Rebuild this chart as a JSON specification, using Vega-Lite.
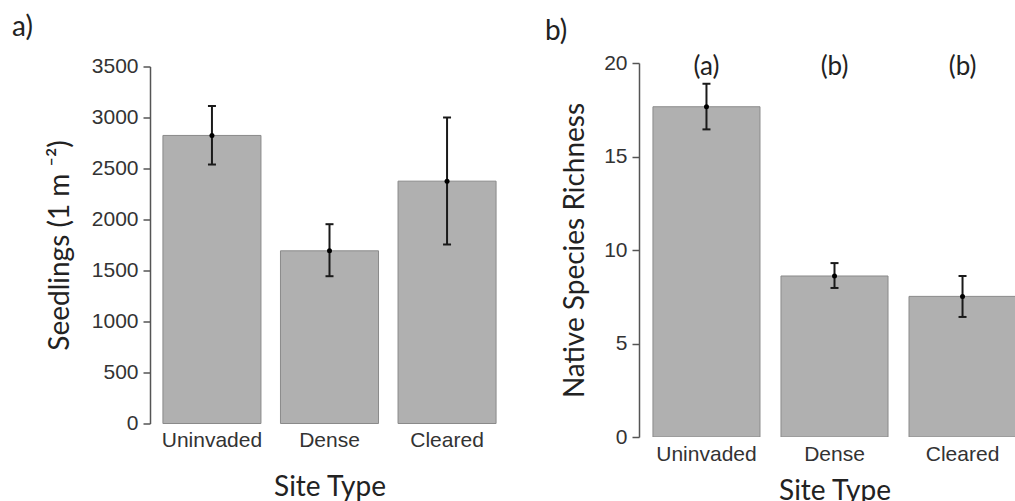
{
  "$schema": "https://vega.github.io/schema/vega-lite/v6.json",
  "padding": {"left": 12, "right": 0, "top": 13, "bottom": 0},
  "spacing": 36,
  "center": true,
  "datasets": {
    "seedlings": [
      {"site": "Uninvaded", "mean": 2824, "lo": 2539, "hi": 3113},
      {"site": "Dense", "mean": 1693, "lo": 1444, "hi": 1954},
      {"site": "Cleared", "mean": 2376, "lo": 1755, "hi": 3000}
    ],
    "richness": [
      {"site": "Uninvaded", "mean": 17.66, "lo": 16.45, "hi": 18.89, "letter": "(a)"},
      {"site": "Dense", "mean": 8.61, "lo": 7.97, "hi": 9.30, "letter": "(b)"},
      {"site": "Cleared", "mean": 7.52, "lo": 6.42, "hi": 8.61, "letter": "(b)"}
    ]
  },
  "config": {
    "view": {"stroke": null},
    "axis": {
      "grid": false,
      "labelFont": "Liberation Sans",
      "labelFontSize": 21,
      "labelColor": "#333333",
      "titleFont": "Lato",
      "titleFontSize": 28,
      "titleFontWeight": "normal",
      "titleColor": "#222222",
      "domainColor": "#555555",
      "domainWidth": 1.5,
      "tickColor": "#555555",
      "tickWidth": 1.5,
      "tickSize": 7
    },
    "title": {"font": "Lato", "fontSize": 28, "fontWeight": "normal", "color": "#222222", "anchor": "start", "frame": "group"}
  },
  "hconcat": [
    {
      "width": 359,
      "height": 357,
      "data": {"name": "seedlings"},
      "title": {"text": "a)", "dx": -138, "offset": 14},
      "encoding": {
        "x": {
          "field": "site", "type": "nominal", "sort": ["Uninvaded", "Dense", "Cleared"],
          "scale": {"paddingInner": 0.166, "paddingOuter": 0.11},
          "axis": {"title": "Site Type", "labelAngle": 0, "domain": false, "ticks": false, "labelPadding": 6, "titlePadding": 23}
        }
      },
      "layer": [
        {
          "mark": {"type": "bar", "fill": "#b0b0b0", "stroke": "#8a8a8a", "strokeWidth": 1},
          "encoding": {
            "y": {"field": "mean", "type": "quantitative", "scale": {"domain": [0, 3500], "nice": false},
              "axis": {"title": "Seedlings (1 m ⁻²)", "format": "d", "values": [0, 500, 1000, 1500, 2000, 2500, 3000, 3500], "labelPadding": 5, "titlePadding": 17}}
          }
        },
        {
          "mark": {"type": "rule", "strokeWidth": 2, "color": "#1a1a1a"},
          "encoding": {"y": {"field": "lo", "type": "quantitative"}, "y2": {"field": "hi"}}
        },
        {
          "mark": {"type": "tick", "size": 8, "thickness": 2, "color": "#1a1a1a", "opacity": 1},
          "encoding": {"y": {"field": "lo", "type": "quantitative"}}
        },
        {
          "mark": {"type": "tick", "size": 8, "thickness": 2, "color": "#1a1a1a", "opacity": 1},
          "encoding": {"y": {"field": "hi", "type": "quantitative"}}
        },
        {
          "mark": {"type": "circle", "size": 25, "color": "#000000", "opacity": 1},
          "encoding": {"y": {"field": "mean", "type": "quantitative"}}
        }
      ]
    },
    {
      "width": 376,
      "height": 374,
      "data": {"name": "richness"},
      "title": {"text": "b)", "dx": -94, "offset": 6},
      "encoding": {
        "x": {
          "field": "site", "type": "nominal", "sort": ["Uninvaded", "Dense", "Cleared"],
          "scale": {"paddingInner": 0.164, "paddingOuter": 0.109, "range": [0, 391]},
          "axis": {"title": "Site Type", "labelAngle": 0, "domain": false, "ticks": false, "labelPadding": 6, "titlePadding": 13}
        }
      },
      "layer": [
        {
          "mark": {"type": "bar", "fill": "#b0b0b0", "stroke": "#8a8a8a", "strokeWidth": 1, "clip": true},
          "encoding": {
            "y": {"field": "mean", "type": "quantitative", "scale": {"domain": [0, 20], "nice": false},
              "axis": {"title": "Native Species Richness", "values": [0, 5, 10, 15, 20], "labelPadding": 5, "titlePadding": 14}}
          }
        },
        {
          "mark": {"type": "rule", "strokeWidth": 2, "color": "#1a1a1a"},
          "encoding": {"y": {"field": "lo", "type": "quantitative"}, "y2": {"field": "hi"}}
        },
        {
          "mark": {"type": "tick", "size": 8, "thickness": 2, "color": "#1a1a1a", "opacity": 1},
          "encoding": {"y": {"field": "lo", "type": "quantitative"}}
        },
        {
          "mark": {"type": "tick", "size": 8, "thickness": 2, "color": "#1a1a1a", "opacity": 1},
          "encoding": {"y": {"field": "hi", "type": "quantitative"}}
        },
        {
          "mark": {"type": "circle", "size": 25, "color": "#000000", "opacity": 1},
          "encoding": {"y": {"field": "mean", "type": "quantitative"}}
        },
        {
          "mark": {"type": "text", "font": "Lato", "fontSize": 26, "color": "#222222", "baseline": "middle", "dy": 4},
          "encoding": {"y": {"datum": 20}, "text": {"field": "letter"}}
        }
      ]
    }
  ]
}
